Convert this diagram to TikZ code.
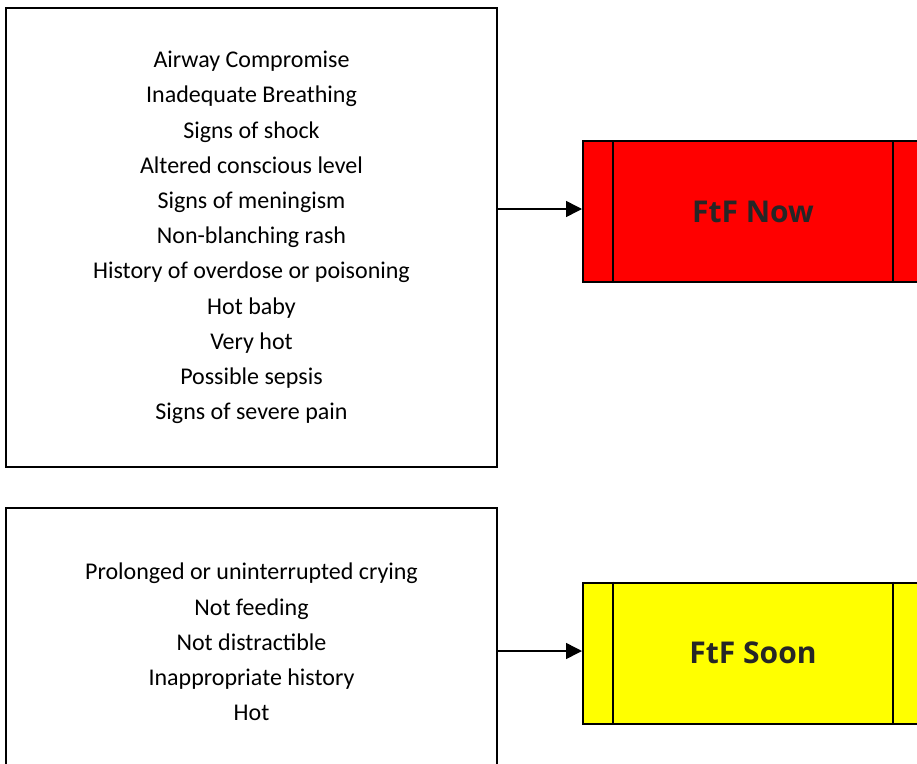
\documentclass[tikz,border=0pt]{standalone}
\usepackage{fontspec}
\setmainfont{Carlito}
\newfontfamily\labelfont{Open Sans}
\usetikzlibrary{arrows.meta}
\definecolor{labelgray}{HTML}{262626}
\definecolor{nowred}{HTML}{FF0000}
\definecolor{soonyellow}{HTML}{FFFF00}
\begin{document}
\begin{tikzpicture}[x=1pt,y=-1pt,
  listbox/.style={draw, line width=2pt, fill=white, align=center,
    inner sep=0pt, font=\fontsize{24}{35.2}\selectfont},
  outcome/.style={draw, line width=2pt, inner sep=0pt,
    minimum width=340pt, minimum height=141pt,
    font=\labelfont\bfseries\fontsize{30}{36}\selectfont, text=labelgray},
  divider/.style={line width=1.6pt},
  link/.style={line width=1.5pt, -{Triangle[length=16pt,width=16pt]}}]
\useasboundingbox (0,0) rectangle (917,763);
\begin{scope}
\clip (0,0) rectangle (917,763);

% red-flag signs and the urgent outcome
\node[listbox, minimum width=491pt, minimum height=459pt] (signs) at (251.5,237.5)
  {Airway Compromise\\Inadequate Breathing\\Signs of shock\\Altered conscious level\\
   Signs of meningism\\Non-blanching rash\\History of overdose or poisoning\\Hot baby\\
   Very hot\\Possible sepsis\\Signs of severe pain};
\node[outcome, fill=nowred] (now) at (753,211.5) {FtF Now};
\draw[divider] ([xshift=31pt]now.north west) -- ([xshift=31pt]now.south west);
\draw[divider] ([xshift=-31pt]now.north east) -- ([xshift=-31pt]now.south east);
\coordinate (nowin) at ([yshift=2.5pt]now.west);
\draw[link] (signs.east |- nowin) -- (nowin);

% amber signs and the soon outcome
\node[listbox, minimum width=491pt, minimum height=268pt] (concerns) at (251.5,642)
  {Prolonged or uninterrupted crying\\Not feeding\\Not distractible\\
   Inappropriate history\\Hot};
\node[outcome, fill=soonyellow] (soon) at (753,653) {FtF Soon};
\draw[divider] ([xshift=31pt]soon.north west) -- ([xshift=31pt]soon.south west);
\draw[divider] ([xshift=-31pt]soon.north east) -- ([xshift=-31pt]soon.south east);
\coordinate (soonin) at ([yshift=2pt]soon.west);
\draw[link] (concerns.east |- soonin) -- (soonin);
\end{scope}
\end{tikzpicture}
\end{document}
